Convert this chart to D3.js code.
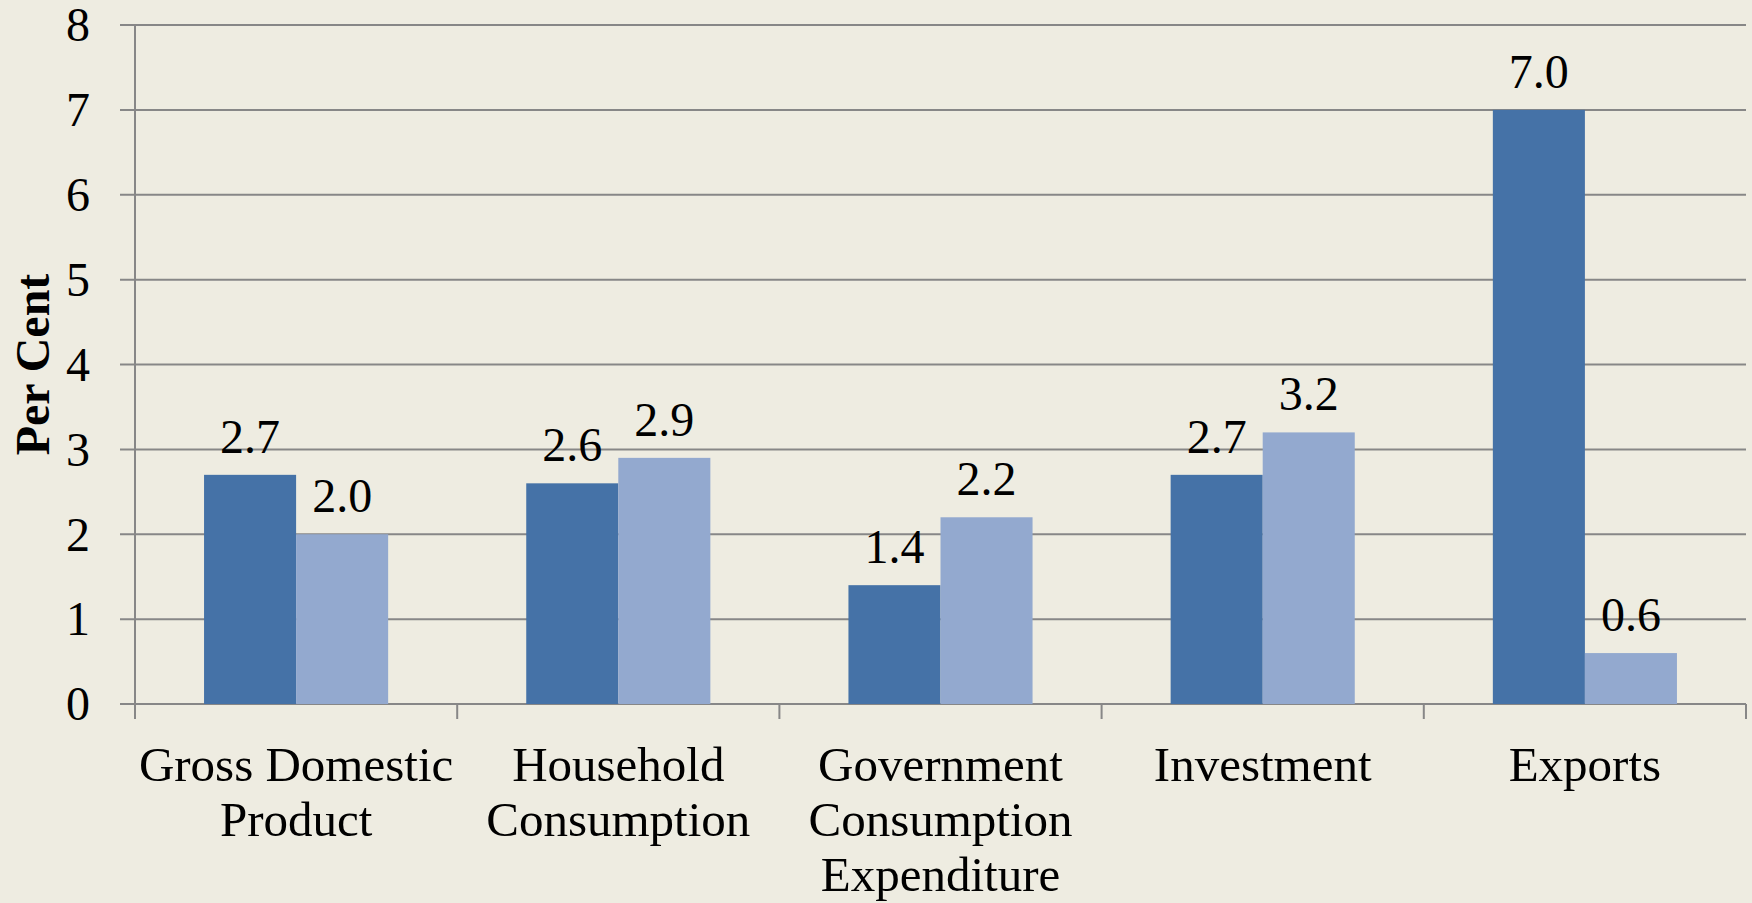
<!DOCTYPE html>
<html>
<head>
<meta charset="utf-8">
<script src="https://cdn.jsdelivr.net/npm/d3@7"></script>
<style>
  html, body { margin: 0; padding: 0; background: #EEECE1; }
  svg { display: block; }
  text { font-family: "Liberation Serif", "Times New Roman", serif; fill: #000; }
</style>
</head>
<body>
<svg id="SVG_CONTAINER"></svg>
<script>
let categories = [
  ["Gross Domestic", "Product"],
  ["Household", "Consumption"],
  ["Government", "Consumption", "Expenditure"],
  ["Investment"],
  ["Exports"]
];
let seriesNames = ["Series A", "Series B"];
let seriesA = [2.7, 2.6, 1.4, 2.7, 7.0];
let seriesB = [2.0, 2.9, 2.2, 3.2, 0.6];
let yTicks = [0, 1, 2, 3, 4, 5, 6, 7, 8];

const MARGIN = { LEFT: 135, RIGHT: 6, TOP: 25, BOTTOM: 199 };
let width = 1752, height = 903;
let colors = ["#4572A7", "#93A9CF"];
let gridColor = "#878787";

let svg = d3.select("#SVG_CONTAINER").attr("width", width).attr("height", height);

let keys = categories.map(c => c.join(" "));
let rows = keys.map((k, i) => ({ key: k, lines: categories[i], values: [seriesA[i], seriesB[i]] }));

let x0 = d3.scaleBand()
  .domain(keys)
  .range([MARGIN.LEFT, width - MARGIN.RIGHT])
  .padding(0);

let x1 = d3.scaleBand()
  .domain(seriesNames)
  .range([0, x0.bandwidth()])
  .paddingInner(0)
  .paddingOuter(0.75);

let y = d3.scaleLinear()
  .domain([0, 8])
  .range([height - MARGIN.BOTTOM, MARGIN.TOP]);

// gridlines + left ticks
svg.append("g")
  .selectAll("line")
  .data(yTicks)
  .enter()
  .append("line")
    .attr("x1", MARGIN.LEFT - 15)
    .attr("x2", width - MARGIN.RIGHT)
    .attr("y1", d => y(d))
    .attr("y2", d => y(d))
    .attr("stroke", gridColor)
    .attr("stroke-width", 2);

// y tick labels
svg.append("g")
  .selectAll("text")
  .data(yTicks)
  .enter()
  .append("text")
    .attr("x", MARGIN.LEFT - 45)
    .attr("y", d => y(d))
    .attr("dy", "0.34em")
    .attr("text-anchor", "end")
    .attr("font-size", "48px")
    .text(d => d);

// bars
let groups = svg.append("g")
  .selectAll("g")
  .data(rows)
  .enter()
  .append("g")
    .attr("transform", d => "translate(" + x0(d.key) + ",0)");

groups.selectAll("rect")
  .data(d => d.values.map((v, i) => ({ s: seriesNames[i], v: v, i: i })))
  .enter()
  .append("rect")
    .attr("x", d => x1(d.s))
    .attr("width", x1.bandwidth())
    .attr("y", d => y(d.v))
    .attr("height", d => y(0) - y(d.v))
    .attr("fill", d => colors[d.i]);

groups.selectAll("text.val")
  .data(d => d.values.map((v, i) => ({ s: seriesNames[i], v: v })))
  .enter()
  .append("text")
    .attr("class", "val")
    .attr("x", d => x1(d.s) + x1.bandwidth() / 2)
    .attr("y", d => y(d.v) - 22)
    .attr("text-anchor", "middle")
    .attr("font-size", "48px")
    .text(d => d.v.toFixed(1));

// axes lines
svg.append("line")
  .attr("x1", MARGIN.LEFT).attr("x2", MARGIN.LEFT)
  .attr("y1", y(8)).attr("y2", y(0) + 15)
  .attr("stroke", gridColor).attr("stroke-width", 2);

let xTicks = keys.map(k => x0(k) + x0.bandwidth()).concat([MARGIN.LEFT]);
svg.append("g")
  .selectAll("line")
  .data(xTicks)
  .enter()
  .append("line")
    .attr("x1", d => d).attr("x2", d => d)
    .attr("y1", y(0)).attr("y2", y(0) + 15)
    .attr("stroke", gridColor).attr("stroke-width", 2);

// category labels
let catLabels = svg.append("g")
  .selectAll("text")
  .data(rows)
  .enter()
  .append("text")
    .attr("text-anchor", "middle")
    .attr("font-size", "49px");

catLabels.selectAll("tspan")
  .data(d => d.lines.map(l => ({ l: l, cx: x0(d.key) + x0.bandwidth() / 2 })))
  .enter()
  .append("tspan")
    .attr("x", d => d.cx)
    .attr("y", (d, i) => y(0) + 77 + i * 55)
    .text(d => d.l);

// y axis title
svg.append("text")
  .attr("transform", "translate(" + 49 + "," + ((y(0) + y(8)) / 2) + ") rotate(-90)")
  .attr("text-anchor", "middle")
  .attr("font-size", "48px")
  .attr("font-weight", "bold")
  .text("Per Cent");
</script>
</body>
</html>
